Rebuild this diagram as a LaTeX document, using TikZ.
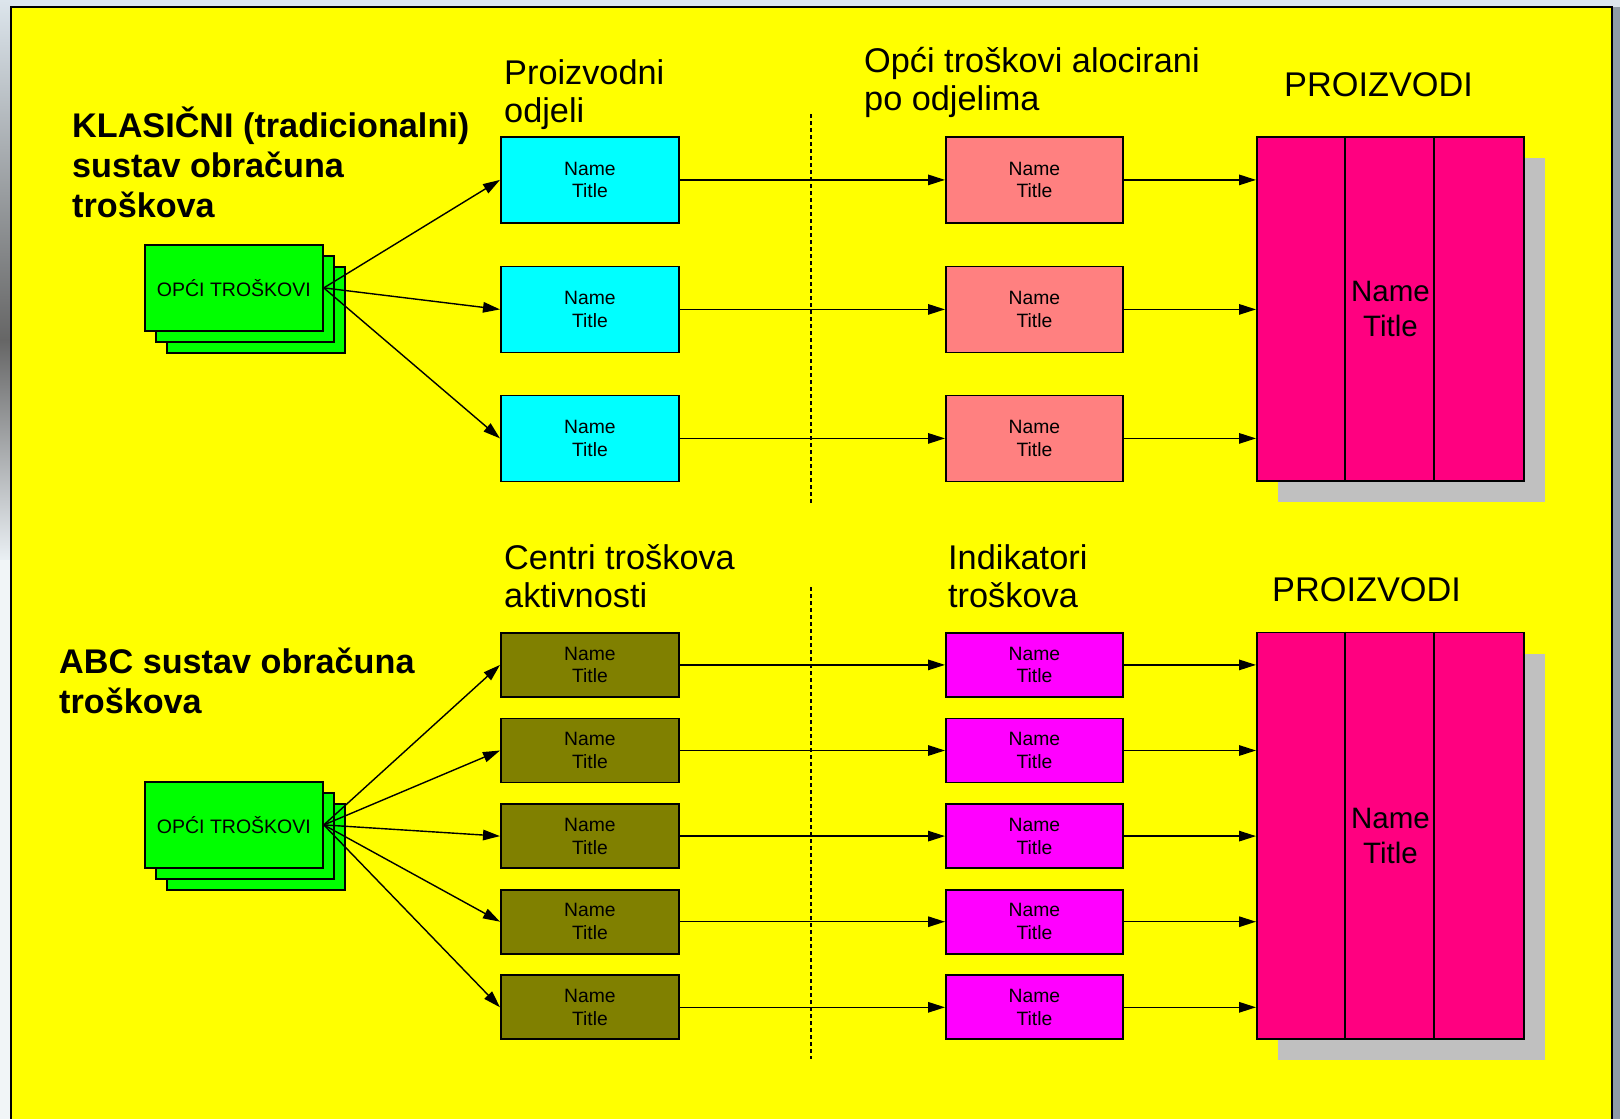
\documentclass[tikz,border=0pt]{standalone}
\usepackage{fontspec}
\setmainfont{Liberation Sans}
\usetikzlibrary{arrows.meta}
\definecolor{panelyellow}{HTML}{FFFF00}
\definecolor{topstrip}{HTML}{DCE5EC}
\definecolor{rightstrip}{HTML}{8E9AA4}
\definecolor{cyanbox}{HTML}{00FFFF}
\definecolor{salmonbox}{HTML}{FF8080}
\definecolor{olivebox}{HTML}{808000}
\definecolor{magentabox}{HTML}{FF00FF}
\definecolor{greenbox}{HTML}{00FF00}
\definecolor{pinkbox}{HTML}{FF0080}
\definecolor{shadowgray}{HTML}{C0C0C0}
\begin{document}
\begin{tikzpicture}[x=1pt,y=-1pt,
  box/.style={draw=black, line width=1.8pt, inner sep=0pt, anchor=north west, align=center,
              font=\fontsize{19.3}{22.7}\selectfont},
  upbox/.style={box, fill=cyanbox, minimum width=178pt, minimum height=86pt},
  salbox/.style={box, fill=salmonbox, minimum width=177pt, minimum height=86pt},
  olbox/.style={box, fill=olivebox, minimum width=178pt, minimum height=64pt},
  magbox/.style={box, fill=magentabox, minimum width=177pt, minimum height=64pt},
  grbox/.style={box, fill=greenbox, minimum width=178pt, minimum height=86pt, font=\fontsize{19.5}{22.7}\selectfont},
  bigbox/.style={box, fill=pinkbox, minimum width=267pt, font=\fontsize{29.5}{35}\selectfont},
  shadowbox/.style={fill=shadowgray, inner sep=0pt, anchor=north west, minimum width=267pt},
  arr/.style={line width=1.4pt, -{Triangle[length=17pt,width=10.5pt]}},
  divider/.style={line width=1.6pt},
  dashline/.style={line width=1.4pt, dash pattern=on 4pt off 3pt},
  head/.style={inner sep=0pt, align=left, anchor=base west, font=\fontsize{34.3}{38}\selectfont},
  title/.style={inner sep=0pt, align=left, anchor=base west, font=\bfseries\fontsize{34.2}{40}\selectfont}]
\useasboundingbox (0,0) rectangle (1620,1119);
% surroundings
\fill[topstrip] (0,0) rectangle (1620,1119);
\shade[top color=topstrip, bottom color=black!60] (0,0) rectangle (11,340);
\shade[top color=black!60, bottom color=topstrip!60!white] (0,340) rectangle (11,560);
\fill[topstrip!40!white] (0,560) rectangle (11,1119);
\fill[rightstrip] (1612,7) rectangle (1620,1119);
% panel
\draw[line width=2pt, fill=panelyellow] (11,1130) -- (11,7) -- (1612,7) -- (1612,1130);

% ---------- top section ----------
\node[title] (t1) at (72,217) {KLASIČNI (tradicionalni)\\sustav obračuna\\troškova};
\node[head] (h1) at (504,122.5) {Proizvodni\\odjeli};
\node[head] (h2) at (864,110) {Opći troškovi alocirani\\po odjelima};
\node[head] (h3) at (1284,96) {PROIZVODI};
\draw[dashline] (811,114) -- (811,503);

\node[grbox] (g1c) at (166,266) {};
\node[grbox] (g1b) at (155,255) {};
\node[grbox] (g1) at (144,244) {OPĆI TROŠKOVI};

\node[upbox] (a1) at (500,136) {Name\\Title};
\node[upbox] (a2) at (500,265.5) {Name\\Title};
\node[upbox] (a3) at (500,394.5) {Name\\Title};
\node[salbox] (b1) at (945,136) {Name\\Title};
\node[salbox] (b2) at (945,265.5) {Name\\Title};
\node[salbox] (b3) at (945,394.5) {Name\\Title};

\node[shadowbox, minimum height=344pt] (pAs) at (1278,158) {};
\node[bigbox, minimum height=344pt] (pA) at (1256,136) {Name\\Title};
\draw[divider] (1345,136) -- (1345,480);
\draw[divider] (1434,136) -- (1434,480);

\foreach \i in {1,2,3}{
  \draw[arr] (g1.east) -- (a\i.west);
  \draw[arr] (a\i.east) -- (b\i.west);
  \draw[arr] (b\i.east) -- (b\i.east -| pA.west);
}

% ---------- bottom section ----------
\node[title] (t2) at (59,713) {ABC sustav obračuna\\troškova};
\node[head] (h4) at (504,607.5) {Centri troškova\\aktivnosti};
\node[head] (h5) at (948,607.5) {Indikatori\\troškova};
\node[head] (h6) at (1272,601) {PROIZVODI};
\draw[dashline] (811,587) -- (811,1059);

\node[grbox] (g2c) at (166,803) {};
\node[grbox] (g2b) at (155,792) {};
\node[grbox] (g2) at (144,781) {OPĆI TROŠKOVI};

\node[shadowbox, minimum height=406.5pt] (pBs) at (1278,653.5) {};
\node[bigbox, minimum height=406.5pt] (pB) at (1256,631.5) {Name\\Title};
\draw[divider] (1345,631.5) -- (1345,1038);
\draw[divider] (1434,631.5) -- (1434,1038);

\foreach \i/\y in {1/632,2/717.6,3/803.2,4/888.8,5/974.4}{
  \node[olbox] (c\i) at (500,\y) {Name\\Title};
  \node[magbox] (d\i) at (945,\y) {Name\\Title};
  \draw[arr] (g2.east) -- (c\i.west);
  \draw[arr] (c\i.east) -- (d\i.west);
  \draw[arr] (d\i.east) -- (d\i.east -| pB.west);
}
\end{tikzpicture}
\end{document}
